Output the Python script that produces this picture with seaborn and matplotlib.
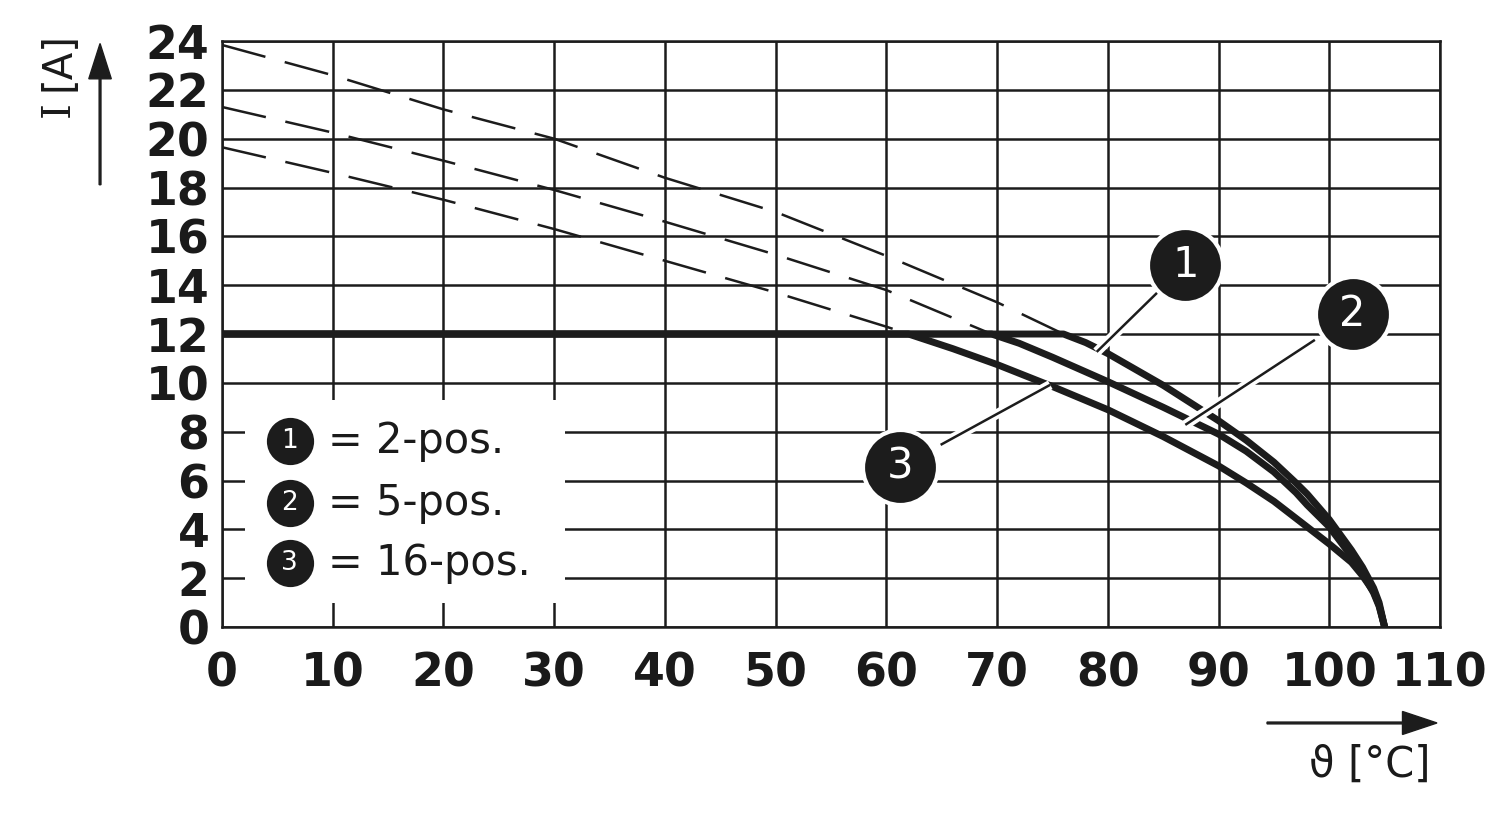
import numpy as np
import pandas as pd
import seaborn as sns
import matplotlib
matplotlib.use("Agg")
import matplotlib.pyplot as plt
from matplotlib.patches import Rectangle, FancyArrow
import matplotlib.patheffects as pe

# ---------------- data ----------------
temp_1 = [0, 10, 20, 30, 40, 50, 60, 70, 76, 78, 80, 85, 90, 92.5, 95, 97, 98, 100, 102, 103, 104, 104.5, 105]
curr_1 = [23.84, 22.6, 21.2, 20.0, 18.4, 17.0, 15.2, 13.3, 12.0, 11.65, 11.2, 9.9, 8.45, 7.65, 6.75, 5.9, 5.45, 4.4, 3.15, 2.45, 1.6, 1.0, 0.0]

temp_2 = [0, 10, 20, 30, 40, 50, 60, 69.5, 72, 75, 80, 85, 90, 92.5, 95, 97, 98, 100, 102, 103, 104, 104.5, 105]
curr_2 = [21.3, 20.25, 19.1, 17.9, 16.6, 15.25, 13.8, 12.0, 11.62, 11.05, 10.05, 9.0, 7.9, 7.2, 6.35, 5.5, 5.0, 4.1, 2.9, 2.2, 1.4, 0.85, 0.0]

temp_3 = [0, 10, 20, 30, 40, 50, 60, 62, 66, 70, 75, 80, 85, 90, 92.5, 95, 97, 98, 100, 102, 103, 104, 104.5, 105]
curr_3 = [19.65, 18.6, 17.5, 16.3, 15.0, 13.7, 12.3, 12.0, 11.4, 10.75, 9.85, 8.9, 7.8, 6.6, 5.9, 5.15, 4.45, 4.1, 3.4, 2.65, 2.1, 1.45, 0.9, 0.0]

current_cap = 12
x_ticks = list(range(0, 111, 10))
y_ticks = list(range(0, 25, 2))
legend_labels = ["= 2-pos.", "= 5-pos.", "= 16-pos."]
curve_ids = ["1", "2", "3"]

INK = "#1c1c1c"

sns.set_style("white")
plt.rcParams['font.family'] = ['DejaVu Sans']

fig = plt.figure(figsize=(15, 8.21), dpi=100)
ax = fig.add_axes([0.148, 0.2363, 0.812, 0.7137])

ax.set_xlim(0, 110)
ax.set_ylim(0, 24)
ax.set_xticks(x_ticks)
ax.set_yticks(y_ticks)
ax.grid(True, color=INK, lw=1.8, zorder=0)
ax.set_axisbelow(True)
for s in ax.spines.values():
    s.set_color(INK)
    s.set_linewidth(1.8)
ax.tick_params(axis='both', length=0, labelsize=33, colors='#1a1a1a')
ax.tick_params(axis='x', pad=18)
ax.tick_params(axis='y', pad=9)
for lab in ax.get_xticklabels() + ax.get_yticklabels():
    lab.set_fontweight('bold')

curves = [(temp_1, curr_1), (temp_2, curr_2), (temp_3, curr_3)]
for t, c in curves:
    df = pd.DataFrame({"T": t, "I": c})
    dashed = df[df["I"] >= current_cap]
    sns.lineplot(data=dashed, x="T", y="I", ax=ax, color=INK, lw=1.8,
                 sort=False, estimator=None, zorder=2)
    ax.lines[-1].set_dashes((18, 8))
    solid = pd.DataFrame({"T": df["T"], "I": np.minimum(df["I"], current_cap)})
    sns.lineplot(data=solid, x="T", y="I", ax=ax, color=INK, lw=5.0,
                 sort=False, estimator=None, zorder=3)
    ax.lines[-1].set_solid_capstyle('round')
    ax.lines[-1].set_solid_joinstyle('round')

ax.set_xlabel("")
ax.set_ylabel("")

# legend box
ax.add_patch(Rectangle((2.1, 0.98), 28.9, 8.3, facecolor='white', edgecolor='none', zorder=4))
leg_y = [7.62, 5.08, 2.62]
for cid, lbl, yy in zip(curve_ids, legend_labels, leg_y):
    ax.plot([6.1], [yy], marker='o', ms=34, color=INK, mec='white', mew=0, zorder=5)
    ax.text(6.1, yy, cid, color='white', fontsize=19, ha='center', va='center', zorder=6)
    ax.text(9.6, yy, lbl, color='#1a1a1a', fontsize=30, ha='left', va='center', zorder=6)

# callouts
callouts = [
    ("1", (87.0, 14.84), (84.7, 13.8), (79.0, 11.27)),
    ("2", (102.1, 12.8), (98.7, 11.76), (87.0, 8.28)),
    ("3", (61.2, 6.56), (64.9, 7.46), (74.8, 9.92)),
]
for cid, cpos, p0, p1 in callouts:
    ax.plot([p0[0], p1[0]], [p0[1], p1[1]], color=INK, lw=1.8, zorder=6,
            solid_capstyle='butt',
            path_effects=[pe.Stroke(linewidth=7, foreground='white'), pe.Normal()])
    ax.plot([cpos[0]], [cpos[1]], marker='o', ms=54, color=INK, mec='white', mew=3, zorder=7)
    ax.text(cpos[0], cpos[1], cid, color='white', fontsize=30, ha='center', va='center', zorder=8)

# axis labels and arrows
fig.text(0.039, 0.867, "I", rotation=90, fontsize=29, ha='center', va='center',
         color='#1a1a1a', family=['DejaVu Serif'])
fig.text(0.039, 0.925, "[A]", rotation=90, fontsize=29, ha='center', va='center',
         color='#1a1a1a', family=['DejaVu Sans'])
fig.patches.append(FancyArrow(
    0.0667, 0.775, 0, 0.172, width=0.0012, head_width=0.015, head_length=0.043,
    length_includes_head=True, color=INK, transform=fig.transFigure, figure=fig))
fig.patches.append(FancyArrow(
    0.8447, 0.1194, 0.1133, 0, width=0.0022, head_width=0.028, head_length=0.023,
    length_includes_head=True, color=INK, transform=fig.transFigure, figure=fig))
fig.text(0.9133, 0.068, "ϑ [°C]", fontsize=30, ha='center', va='center', color='#1a1a1a')

fig.savefig("out.png", dpi=100, facecolor='white')
